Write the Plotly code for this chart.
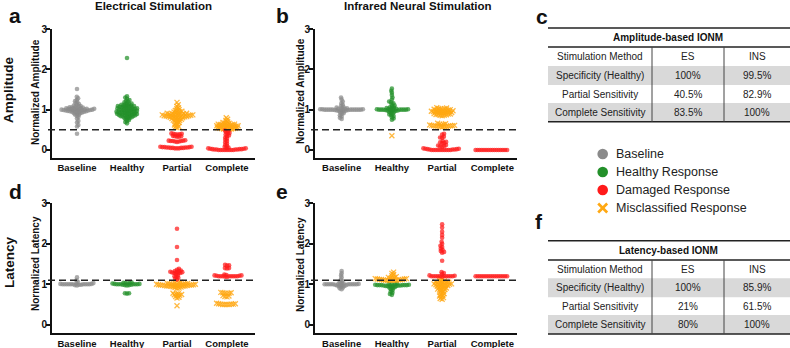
import math
import plotly.graph_objects as go

W, H = 790, 348
FONT = "Liberation Sans, Arial, sans-serif"

CATEGORIES = ["Baseline", "Healthy", "Partial", "Complete"]
Y_TICKS = [0, 1, 2, 3]

GRAY = "#8a8a8a"
GREEN = "#23902a"
RED = "#ff1a1a"
ORANGE = "#ffa812"

# ---------------- data: ES amplitude (panel a) ----------------
es_amp_base = [1.51, 1.32, 1.28, 1.24, 1.21, 1.19, 1.16, 1.14, 1.12, 1.10, 1.09, 1.08, 1.07, 1.06, 1.05, 1.05,
               1.04, 1.04, 1.03, 1.03, 1.02, 1.02, 1.02, 1.01, 1.01, 1.01, 1.00, 1.00, 1.00, 1.00, 0.99, 0.99,
               0.99, 0.98, 0.98, 0.98, 0.97, 0.97, 0.97, 0.96, 0.96, 0.95, 0.95, 0.94, 0.94, 0.93, 0.92, 0.91,
               0.90, 0.88, 0.87, 0.85, 0.82, 0.78, 0.72, 0.68, 0.62, 0.58, 0.40]
es_amp_healthy = [2.28, 1.33, 1.30, 1.27, 1.24, 1.22, 1.20, 1.18, 1.16, 1.15, 1.14, 1.13, 1.12, 1.11, 1.10, 1.10,
                  1.09, 1.09, 1.08, 1.08, 1.07, 1.06, 1.06, 1.05, 1.05, 1.04, 1.03, 1.03, 1.02, 1.02, 1.01, 1.01,
                  1.00, 1.00, 0.99, 0.99, 0.98, 0.97, 0.97, 0.96, 0.96, 0.95, 0.95, 0.94, 0.94, 0.93, 0.93, 0.92,
                  0.92, 0.91, 0.91, 0.90, 0.90, 0.89, 0.89, 0.88, 0.88, 0.87, 0.87, 0.86, 0.86, 0.85, 0.84, 0.84,
                  0.83, 0.83, 0.82, 0.81, 0.80, 0.79, 0.78, 0.76, 0.74, 0.72, 0.69, 0.66]
es_amp_partial_mis = [1.18, 1.12, 1.08, 1.05, 1.02, 1.00, 0.98, 0.97, 0.96, 0.95, 0.94, 0.93, 0.92, 0.91, 0.91,
                      0.90, 0.90, 0.89, 0.89, 0.88, 0.88, 0.87, 0.87, 0.87, 0.86, 0.86, 0.86, 0.85, 0.85, 0.85,
                      0.84, 0.84, 0.84, 0.83, 0.83, 0.82, 0.82, 0.81, 0.81, 0.80, 0.80, 0.79, 0.78, 0.77, 0.76,
                      0.75, 0.74, 0.73, 0.72, 0.70, 0.68, 0.66, 0.64, 0.62, 0.60, 0.58, 0.56, 0.55]
es_amp_partial_dmg = [0.41, 0.40, 0.40, 0.39, 0.39, 0.38, 0.35, 0.34, 0.34, 0.33, 0.33, 0.24, 0.23, 0.23, 0.22,
                      0.22, 0.22, 0.21, 0.21, 0.20, 0.08, 0.08, 0.07, 0.07, 0.07, 0.06, 0.06, 0.06, 0.06, 0.05,
                      0.05, 0.05, 0.05, 0.04, 0.04, 0.04]
es_amp_complete_mis = [0.80, 0.76, 0.73, 0.70, 0.68, 0.67, 0.66, 0.65, 0.64, 0.64, 0.63, 0.63, 0.62, 0.62, 0.61,
                       0.61, 0.60, 0.60, 0.60, 0.59, 0.59, 0.58, 0.58, 0.57, 0.57, 0.56, 0.56, 0.55, 0.55, 0.55,
                       0.54, 0.54, 0.53, 0.53, 0.52, 0.52, 0.51, 0.51]
es_amp_complete_dmg = [0.48, 0.46, 0.44, 0.42, 0.40, 0.38, 0.36, 0.34, 0.31, 0.28, 0.25, 0.22, 0.19, 0.16, 0.13,
                       0.10, 0.08, 0.06, 0.05, 0.04, 0.04, 0.03, 0.03, 0.02, 0.02, 0.02, 0.01, 0.01, 0.01, 0.01,
                       0.00, 0.00, 0.00, 0.00, 0.00, 0.00, 0.00, 0.00]

# ---------------- data: INS amplitude (panel b) ----------------
ins_amp_base = [1.30, 1.25, 1.20, 1.16, 1.12, 1.09, 1.07, 1.05, 1.04, 1.03, 1.02, 1.02, 1.01, 1.01, 1.01, 1.00,
                1.00, 1.00, 1.00, 1.00, 1.00, 1.00, 1.00, 1.00, 1.00, 1.00, 1.00, 0.99, 0.99, 0.99, 0.98, 0.98,
                0.97, 0.96, 0.95, 0.93, 0.91, 0.89, 0.86, 0.83, 0.80, 0.77]
ins_amp_healthy = [1.52, 1.47, 1.42, 1.36, 1.30, 1.25, 1.20, 1.18, 1.16, 1.13, 1.10, 1.08, 1.06, 1.05, 1.04, 1.03,
                   1.02, 1.02, 1.01, 1.01, 1.00, 1.00, 1.00, 1.00, 1.00, 1.00, 1.00, 1.00, 0.99, 0.99, 0.98, 0.98,
                   0.97, 0.96, 0.95, 0.94, 0.92, 0.90, 0.88, 0.86, 0.84, 0.81, 0.78, 0.75]
ins_amp_healthy_mis = [0.35]
ins_amp_partial_mis = [1.05, 1.04, 1.03, 1.02, 1.02, 1.01, 1.00, 1.00, 0.99, 0.99, 0.98, 0.98, 0.97, 0.97, 0.96,
                       0.96, 0.95, 0.95, 0.95, 0.94, 0.94, 0.93, 0.93, 0.92, 0.92, 0.91, 0.90, 0.90, 0.89, 0.89,
                       0.88, 0.88, 0.87, 0.86, 0.86, 0.85, 0.66, 0.65, 0.64, 0.63, 0.62, 0.62, 0.61, 0.61, 0.60,
                       0.60, 0.60, 0.59, 0.59, 0.59, 0.58, 0.58, 0.58, 0.57]
ins_amp_partial_dmg = [0.40, 0.38, 0.33, 0.31, 0.30, 0.22, 0.20, 0.19, 0.18, 0.17, 0.12, 0.11, 0.10, 0.09, 0.08,
                       0.04, 0.03, 0.03, 0.02, 0.02, 0.01, 0.01, 0.01, 0.00, 0.00, 0.00, 0.00, 0.00, 0.00, 0.00,
                       0.00, 0.00, 0.00]
ins_amp_complete_dmg = [0.00, 0.00, 0.00, 0.00, 0.00, 0.00, 0.00, 0.00, 0.00, 0.00, 0.00, 0.00, 0.00, 0.00, 0.00,
                        0.00]

# ---------------- data: ES latency (panel d) ----------------
es_lat_base = [1.17, 1.10, 1.06, 1.03, 1.02, 1.01, 1.01, 1.00, 1.00, 1.00, 1.00, 1.00, 1.00, 1.00, 1.00, 1.00,
               1.00, 0.99, 0.99, 0.98, 0.97]
es_lat_healthy = [1.05, 1.04, 1.03, 1.03, 1.02, 1.02, 1.01, 1.01, 1.00, 1.00, 1.00, 1.00, 1.00, 1.00, 0.99, 0.99,
                  0.98, 0.98, 0.97, 0.78, 0.78, 0.77]
es_lat_partial_dmg = [2.37, 1.92, 1.60, 1.38, 1.36, 1.34, 1.33, 1.32, 1.31, 1.30, 1.30, 1.29, 1.28, 1.28, 1.27,
                      1.25, 1.22, 1.20, 1.18, 1.16, 1.14, 1.12]
es_lat_partial_mis = [1.05, 1.04, 1.03, 1.02, 1.02, 1.01, 1.01, 1.01, 1.00, 1.00, 1.00, 1.00, 0.99, 0.99, 0.99,
                      0.99, 0.98, 0.98, 0.98, 0.98, 0.97, 0.97, 0.97, 0.97, 0.96, 0.96, 0.96, 0.95, 0.95, 0.95,
                      0.94, 0.93, 0.92, 0.91, 0.90, 0.78, 0.77, 0.76, 0.75, 0.74, 0.73, 0.72, 0.70, 0.68, 0.66,
                      0.47]
es_lat_complete_dmg = [1.48, 1.47, 1.46, 1.40, 1.40, 1.39, 1.24, 1.23, 1.22, 1.22, 1.21, 1.21, 1.20, 1.20, 1.20,
                       1.20, 1.20, 1.20, 1.20, 1.20, 1.19, 1.18]
es_lat_complete_mis = [0.80, 0.79, 0.79, 0.78, 0.78, 0.77, 0.72, 0.71, 0.70, 0.69, 0.53, 0.52, 0.52, 0.51, 0.51,
                       0.51, 0.50, 0.50, 0.50, 0.50]

# ---------------- data: INS latency (panel e) ----------------
ins_lat_base = [1.33, 1.27, 1.22, 1.17, 1.12, 1.08, 1.05, 1.03, 1.02, 1.01, 1.01, 1.00, 1.00, 1.00, 1.00, 1.00,
                1.00, 1.00, 1.00, 1.00, 1.00, 0.99, 0.99, 0.98, 0.98, 0.97, 0.96, 0.95, 0.94, 0.92, 0.90, 0.88]
ins_lat_healthy = [1.02, 1.01, 1.00, 1.00, 0.99, 0.99, 0.98, 0.98, 0.98, 0.98, 0.98, 0.98, 0.97, 0.97, 0.97, 0.97,
                   0.97, 0.96, 0.96, 0.95, 0.94, 0.93, 0.92, 0.90, 0.88, 0.85, 0.82, 0.79, 0.76, 0.74]
ins_lat_healthy_mis = [1.30, 1.27, 1.24, 1.21, 1.19, 1.17, 1.16, 1.15, 1.15, 1.14, 1.14, 1.13, 1.13, 1.12, 1.12,
                       1.12, 1.11, 1.11, 1.11, 1.10, 1.10, 1.10, 1.10, 1.10, 1.10]
ins_lat_partial_dmg = [2.48, 2.40, 2.30, 2.22, 2.15, 2.05, 2.00, 1.95, 1.92, 1.88, 1.85, 1.82, 1.80, 1.78, 1.58,
                       1.30, 1.28, 1.25, 1.22, 1.21, 1.20, 1.20, 1.20, 1.20, 1.20, 1.20, 1.20, 1.20, 1.20, 1.20,
                       1.19]
ins_lat_partial_mis = [1.15, 1.12, 1.10, 1.08, 1.07, 1.06, 1.05, 1.05, 1.04, 1.03, 1.03, 1.02, 1.01, 1.01, 1.00,
                       1.00, 0.99, 0.99, 0.98, 0.97, 0.97, 0.96, 0.95, 0.94, 0.93, 0.92, 0.91, 0.90, 0.89, 0.88,
                       0.87, 0.86, 0.85, 0.83, 0.81, 0.79, 0.77, 0.75, 0.73, 0.71, 0.69, 0.67, 0.65, 0.63]
ins_lat_complete_dmg = [1.20, 1.20, 1.20, 1.20, 1.20, 1.20, 1.20, 1.20, 1.20, 1.20, 1.20, 1.20, 1.20, 1.20, 1.20,
                        1.20]

THRESH_AMP = 0.5
THRESH_LAT = 1.1

# ---------------- table data ----------------
table_rows = ["Stimulation Method", "Specificity (Healthy)", "Partial Sensitivity", "Complete Sensitivity"]
amp_es = ["ES", "100%", "40.5%", "83.5%"]
amp_ins = ["INS", "99.5%", "82.9%", "100%"]
lat_es = ["ES", "100%", "21%", "80%"]
lat_ins = ["INS", "85.9%", "61.5%", "100%"]
legend_labels = ["Baseline", "Healthy Response", "Damaged Response", "Misclassified Response"]

# ---------------- layout geometry (pixels) ----------------
panels = [
    dict(key="a", xa="x", ya="y", px0=52, px1=255, py0=29, py1=158, xr=[-0.5, 3.56], yr=[-0.2, 3.0],
         thr=THRESH_AMP, groups=[
             [(es_amp_base, "base")],
             [(es_amp_healthy, "healthy")],
             [(es_amp_partial_mis, "mis"), (es_amp_partial_dmg, "dmg")],
             [(es_amp_complete_mis, "mis"), (es_amp_complete_dmg, "dmg")]]),
    dict(key="b", xa="x2", ya="y2", px0=315, px1=517, py0=29, py1=158, xr=[-0.53, 3.49], yr=[-0.2, 3.0],
         thr=THRESH_AMP, groups=[
             [(ins_amp_base, "base")],
             [(ins_amp_healthy, "healthy"), (ins_amp_healthy_mis, "mis")],
             [(ins_amp_partial_mis, "mis"), (ins_amp_partial_dmg, "dmg")],
             [(ins_amp_complete_dmg, "dmg")]]),
    dict(key="d", xa="x3", ya="y3", px0=52, px1=255, py0=203.3, py1=333.3, xr=[-0.5, 3.56], yr=[-0.21, 3.0],
         thr=THRESH_LAT, groups=[
             [(es_lat_base, "base")],
             [(es_lat_healthy, "healthy")],
             [(es_lat_partial_mis, "mis"), (es_lat_partial_dmg, "dmg")],
             [(es_lat_complete_mis, "mis"), (es_lat_complete_dmg, "dmg")]]),
    dict(key="e", xa="x4", ya="y4", px0=315, px1=517, py0=203.3, py1=333.3, xr=[-0.53, 3.49], yr=[-0.21, 3.0],
         thr=THRESH_LAT, groups=[
             [(ins_lat_base, "base")],
             [(ins_lat_healthy, "healthy"), (ins_lat_healthy_mis, "mis")],
             [(ins_lat_partial_mis, "mis"), (ins_lat_partial_dmg, "dmg")],
             [(ins_lat_complete_dmg, "dmg")]]),
]

DOT = 2.1  # collision diameter in pixels for the swarm layout


def beeswarm(ypx, dot):
    n = len(ypx)
    order = sorted(range(n), key=lambda i: ypx[i])
    placed = []
    out = [0.0] * n
    flip = 1
    for i in order:
        y = ypx[i]
        ivs = []
        for (xj, yj) in placed:
            dy = y - yj
            if abs(dy) < dot:
                w = math.sqrt(dot * dot - dy * dy)
                ivs.append((xj - w, xj + w))
        cands = [0.0]
        for a, b in ivs:
            cands += [a, b]
        cands.sort(key=lambda c: (round(abs(c), 6), -flip * c))
        x = 0.0
        for c in cands:
            if all(not (a + 1e-6 < c < b - 1e-6) for a, b in ivs):
                x = c
                break
        flip = -flip
        placed.append((x, y))
        out[i] = x
    return out


def fx(px):
    return px / W


def fy(py):
    return 1 - py / H


STYLE = {
    "base": dict(color=GRAY, symbol="circle"),
    "healthy": dict(color=GREEN, symbol="circle"),
    "dmg": dict(color=RED, symbol="circle"),
    "mis": dict(color=ORANGE, symbol="x-thin"),
}

fig = go.Figure()
shapes = []
annotations = []
layout_axes = {}

for p in panels:
    ppc = (p["px1"] - p["px0"]) / (p["xr"][1] - p["xr"][0])
    ppu = (p["py1"] - p["py0"]) / (p["yr"][1] - p["yr"][0])
    pts = {k: ([], []) for k in STYLE}
    for ci, grp in enumerate(p["groups"]):
        vals, kinds = [], []
        for arr, kind in grp:
            vals += arr
            kinds += [kind] * len(arr)
        offs = beeswarm([v * ppu for v in vals], DOT)
        for v, k, o in zip(vals, kinds, offs):
            pts[k][0].append(ci + o / ppc)
            pts[k][1].append(v)
    for kind in ["base", "healthy", "mis", "dmg"]:
        xs, ys = pts[kind]
        if not xs:
            continue
        st = STYLE[kind]
        if st["symbol"] == "circle":
            marker = dict(symbol="circle", size=4.6, color=st["color"], opacity=0.72, line=dict(width=0))
        else:
            marker = dict(symbol="x-thin", size=5, color=st["color"], opacity=0.8,
                          line=dict(width=1.3, color=st["color"]))
        fig.add_trace(go.Scatter(x=xs, y=ys, mode="markers", marker=marker, xaxis=p["xa"], yaxis=p["ya"],
                                 showlegend=False, hoverinfo="skip", cliponaxis=False))

    xname = "xaxis" + p["xa"][1:]
    yname = "yaxis" + p["ya"][1:]
    layout_axes[xname] = dict(domain=[fx(p["px0"]), fx(p["px1"])], range=p["xr"], anchor=p["ya"],
                              tickvals=[0, 1, 2, 3], ticktext=CATEGORIES, showline=True, linewidth=2,
                              linecolor="#111", ticks="", showgrid=False, zeroline=False, automargin=False,
                              tickfont=dict(family=FONT, size=9.5, color="#111", weight="bold"))
    layout_axes[yname] = dict(domain=[fy(p["py1"]), fy(p["py0"])], range=p["yr"], anchor=p["xa"],
                              tickvals=Y_TICKS, showline=True, linewidth=2, linecolor="#111",
                              ticks="outside", ticklen=4, tickwidth=2, tickcolor="#111",
                              showgrid=False, zeroline=False, automargin=False, ticklabelstandoff=-3,
                              tickfont=dict(family=FONT, size=10, color="#111", weight="bold"))
    # threshold line
    ythr = p["py1"] - (p["thr"] - p["yr"][0]) * ppu
    shapes.append(dict(type="line", xref="paper", yref="paper", x0=fx(p["px0"] - 4), x1=fx(p["px1"]),
                       y0=fy(ythr), y1=fy(ythr), line=dict(color="#222", width=1.6, dash="7px,4px")))


def ann(text, x, y, size, bold=False, angle=0, xanchor="center", color="#111"):
    annotations.append(dict(text=text, x=fx(x), y=fy(y), xref="paper", yref="paper", showarrow=False,
                            xanchor=xanchor, yanchor="middle", textangle=angle,
                            font=dict(family=FONT, size=size, color=color, weight="bold" if bold else "normal")))


# titles and labels
ann("Electrical Stimulation", 153, 6, 11.5, bold=True)
ann("Infrared Neural Stimulation", 418, 6, 11.5, bold=True)
for letter, x, y in [("a", 15, 16), ("b", 282, 16), ("c", 542, 17), ("d", 15, 191), ("e", 282, 191),
                     ("f", 539, 221)]:
    ann(letter, x, y, 21, bold=True)
ann("Amplitude", 9, 90, 13.5, bold=True, angle=-90)
ann("Latency", 9, 262, 13.5, bold=True, angle=-90)
ann("Normalized Amplitude", 35, 92, 10, bold=True, angle=-90)
ann("Normalized Amplitude", 300, 91, 10, bold=True, angle=-90)
ann("Normalized Latency", 35, 264, 10, bold=True, angle=-90)
ann("Normalized Latency", 300, 265, 10, bold=True, angle=-90)

# tables
TX0, TX1 = 548, 790
COLS = [652, 724]
COL_CENTERS = [600, 688, 757]
TABLE_GRAY = "#d9d9d9"


def draw_table(title, top, head_bottom, row_edges, es_vals, ins_vals):
    for r in range(4):
        if r % 2 == 1:
            shapes.append(dict(type="rect", xref="paper", yref="paper", x0=fx(TX0), x1=fx(TX1),
                               y0=fy(row_edges[r + 1]), y1=fy(row_edges[r]), fillcolor=TABLE_GRAY,
                               line=dict(width=0), layer="below"))
    for yy in [top, head_bottom, row_edges[-1]]:
        shapes.append(dict(type="line", xref="paper", yref="paper", x0=fx(TX0), x1=fx(TX1), y0=fy(yy),
                           y1=fy(yy), line=dict(color="#222", width=1.5)))
    for cx in COLS:
        shapes.append(dict(type="line", xref="paper", yref="paper", x0=fx(cx), x1=fx(cx), y0=fy(head_bottom),
                           y1=fy(row_edges[-1]), line=dict(color="#444", width=1)))
    ann(title, 668, (top + head_bottom) / 2, 10, bold=True)
    for r in range(4):
        yc = (row_edges[r] + row_edges[r + 1]) / 2
        ann(table_rows[r], COL_CENTERS[0], yc, 10, color="#222")
        ann(es_vals[r], COL_CENTERS[1], yc, 10, color="#222")
        ann(ins_vals[r], COL_CENTERS[2], yc, 10, color="#222")


draw_table("Amplitude-based IONM", 28, 47, [47, 66, 85, 103, 121.7], amp_es, amp_ins)
draw_table("Latency-based IONM", 240.7, 260, [260, 278.3, 297.3, 315, 334], lat_es, lat_ins)

# legend
LEG_X = 602.7
LEG_Y = [154, 172, 190, 208]
leg_colors = ["#8a8a8a", "#23902a", "#ff1a1a"]
for i in range(3):
    r = 5.3
    shapes.append(dict(type="circle", xref="paper", yref="paper", x0=fx(LEG_X - r), x1=fx(LEG_X + r),
                       y0=fy(LEG_Y[i] + r), y1=fy(LEG_Y[i] - r), fillcolor=leg_colors[i], line=dict(width=0)))
r = 4.5
for (dx0, dy0, dx1, dy1) in [(-r, -r, r, r), (-r, r, r, -r)]:
    shapes.append(dict(type="line", xref="paper", yref="paper", x0=fx(LEG_X + dx0), x1=fx(LEG_X + dx1),
                       y0=fy(LEG_Y[3] + dy0), y1=fy(LEG_Y[3] + dy1), line=dict(color=ORANGE, width=2.6)))
for i, lab in enumerate(legend_labels):
    ann(lab, 613.5, LEG_Y[i], 12.5, xanchor="left", color="#222")

fig.update_layout(width=W, height=H, margin=dict(l=0, r=0, t=0, b=0, autoexpand=False), paper_bgcolor="white",
                  plot_bgcolor="white", showlegend=False, shapes=shapes, annotations=annotations,
                  font=dict(family=FONT), template="none", **layout_axes)

fig.write_html("out.html", config={"displayModeBar": False},
               post_script="document.body.style.margin='0';document.body.style.overflow='hidden';")
